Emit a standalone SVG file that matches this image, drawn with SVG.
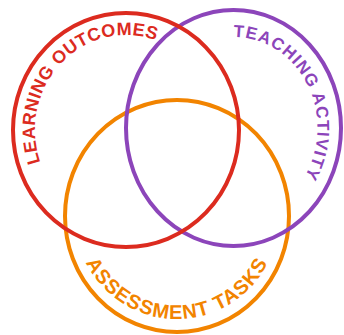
<svg xmlns="http://www.w3.org/2000/svg" width="344" height="335" viewBox="0 0 344 335">
  <style>
    .ring { fill: none; stroke-width: 4; }
    .label { font-family: "Liberation Sans", Arial, sans-serif; font-weight: bold; }
    .red { stroke: #dc2b1f; }
    .purple { stroke: #8c45ba; }
    .orange { stroke: #f28400; }
  </style>
  <defs>
    <!-- baselines for the curved labels, each concentric with its ring -->
    <path id="arc-learning" d="M126,225 A91,95 0 1 1 126,35 A91,95 0 1 1 126,225"/>
    <path id="arc-teaching" d="M233.5,219 A84,91 0 1 1 233.5,37 A84,91 0 1 1 233.5,219"/>
    <path id="arc-assessment" d="M75,216 A102,103 0 0 0 279,216"/>
  </defs>
  <rect width="344" height="335" fill="#ffffff"/>

  <g id="assessment-tasks">
    <ellipse class="ring orange" cx="177" cy="216" rx="112" ry="116"/>
    <text class="label" font-size="20" letter-spacing="1" fill="#f28400">
      <textPath href="#arc-assessment" startOffset="50%" text-anchor="middle">ASSESSMENT TASKS</textPath>
    </text>
  </g>

  <g id="teaching-activity">
    <ellipse class="ring purple" cx="233.5" cy="128" rx="107.5" ry="118"/>
    <text class="label" font-size="17" letter-spacing="1.1" fill="#8c45ba">
      <textPath href="#arc-teaching" startOffset="67.2%" text-anchor="middle">TEACHING ACTIVITY</textPath>
    </text>
  </g>

  <g id="learning-outcomes">
    <ellipse class="ring red" cx="126" cy="130" rx="113" ry="117"/>
    <text class="label" font-size="18" letter-spacing="0.4" fill="#dc2b1f">
      <textPath href="#arc-learning" startOffset="37.3%" text-anchor="middle">LEARNING OUTCOMES</textPath>
    </text>
  </g>
</svg>
